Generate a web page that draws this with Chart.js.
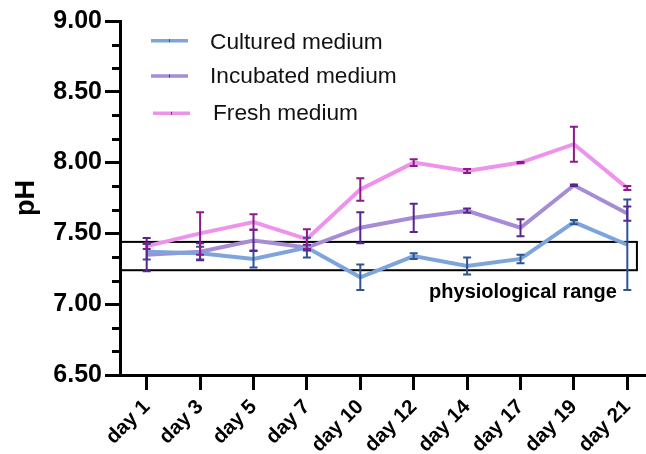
<!DOCTYPE html>
<html><head><meta charset="utf-8">
<script src="https://cdn.jsdelivr.net/npm/chart.js@4.4.0/dist/chart.umd.min.js"></script>
<style>html,body{margin:0;padding:0;background:#fff;}#wrap{width:646px;height:454px;position:relative;}</style>
</head><body><div id="wrap"><canvas id="c"></canvas></div>
<script>
// ---- data ----
const categories = ['day 1','day 3','day 5','day 7','day 10','day 12','day 14','day 17','day 19','day 21'];
const seriesNames = ['Cultured medium','Incubated medium','Fresh medium'];
const culturedMean = [7.37,7.36,7.32,7.40,7.19,7.34,7.27,7.32,7.58,7.42];
const culturedErr  = [0.055,0.045,0.06,0.07,0.09,0.02,0.06,0.03,0.015,0.32];
const incubatedMean = [7.35,7.37,7.45,7.40,7.54,7.61,7.66,7.54,7.84,7.64];
const incubatedErr  = [0.118,0.06,0.075,0.02,0.11,0.10,0.015,0.06,0.005,0.05];
const freshMean = [7.41,7.50,7.58,7.46,7.81,8.00,7.94,8.00,8.13,7.82];
const freshErr  = [0.02,0.15,0.055,0.07,0.08,0.024,0.014,0.005,0.124,0.014];
const yTickValues = [6.5,7.0,7.5,8.0,8.5,9.0];
const physRange = [7.24, 7.44];
const physLabel = 'physiological range';
const yTitle = 'pH';

// ---- styles ----
const lineColors = ['#7DA5DB','#A68BD7','#EE93EC'];
const errColors  = ['#2E5495','#58268E','#8C1A8C'];
const FONT = "'Liberation Sans', Arial, sans-serif";

const means = [culturedMean, incubatedMean, freshMean];
const errs  = [culturedErr, incubatedErr, freshErr];

const datasets = means.map((m,k)=>({
  label: seriesNames[k],
  data: m.map((v,i)=>({x:i,y:v})),
  borderColor: lineColors[k],
  backgroundColor: lineColors[k],
  borderWidth: 4,
  pointRadius: 0,
  tension: 0,
  errors: errs[k],
  errColor: errColors[k]
}));

const physBox = {
  id:'physBox',
  beforeDatasetsDraw(chart){
    const {ctx, chartArea, scales:{x,y}} = chart;
    const top = y.getPixelForValue(physRange[1]);
    const bot = y.getPixelForValue(physRange[0]);
    const right = x.getPixelForValue(9.18);
    ctx.save();
    ctx.strokeStyle = '#000'; ctx.lineWidth = 2;
    ctx.strokeRect(chartArea.left, top, right - chartArea.left, bot - top);
    ctx.fillStyle = '#000';
    ctx.font = 'bold 20px ' + FONT;
    ctx.textAlign = 'right'; ctx.textBaseline = 'alphabetic';
    ctx.fillText(physLabel, right - 20, bot + 28);
    ctx.restore();
  }
};

const errorBars = {
  id:'errorBars',
  afterDatasetsDraw(chart){
    const {ctx, scales:{x,y}} = chart;
    ctx.save();
    chart.data.datasets.forEach(ds=>{
      ctx.strokeStyle = ds.errColor; ctx.lineWidth = 2;
      ds.data.forEach((p,i)=>{
        const e = ds.errors[i];
        const px = x.getPixelForValue(p.x);
        const y1 = y.getPixelForValue(p.y + e), y2 = y.getPixelForValue(p.y - e);
        ctx.beginPath();
        ctx.moveTo(px,y1); ctx.lineTo(px,y2);
        ctx.moveTo(px-4,y1); ctx.lineTo(px+4,y1);
        ctx.moveTo(px-4,y2); ctx.lineTo(px+4,y2);
        ctx.stroke();
      });
    });
    ctx.restore();
  }
};

const minorTicks = {
  id:'minorTicks',
  afterDraw(chart){
    const {ctx, chartArea, scales:{y}} = chart;
    ctx.save();
    ctx.strokeStyle = '#000'; ctx.lineWidth = 3;
    for (let j = 0; j <= 15; j++) {
      if (j % 3 === 0) continue;
      const v = 6.5 + j/6;
      const py = Math.round(y.getPixelForValue(v)) + 0.5;
      ctx.beginPath(); ctx.moveTo(chartArea.left - 8, py); ctx.lineTo(chartArea.left, py); ctx.stroke();
    }
    ctx.restore();
  }
};

const customLegend = {
  id:'customLegend',
  afterDraw(chart){
    const {ctx} = chart;
    const lineY = [40.7, 76, 113.3];
    const textY = [42.5, 77, 113.5];
    const x0 = [151, 151, 153], x1 = [188, 188, 190], tx = [210, 210, 213];
    ctx.save();
    chart.data.datasets.forEach((ds,k)=>{
      ctx.strokeStyle = ds.borderColor; ctx.lineWidth = 3.5;
      ctx.beginPath(); ctx.moveTo(x0[k], lineY[k]); ctx.lineTo(x1[k], lineY[k]); ctx.stroke();
      ctx.strokeStyle = ds.errColor; ctx.lineWidth = 1;
      const mx = (x0[k]+x1[k])/2;
      ctx.beginPath(); ctx.moveTo(mx, lineY[k]-1.5); ctx.lineTo(mx, lineY[k]+1.5); ctx.stroke();
      ctx.fillStyle = '#111';
      ctx.font = '22.7px ' + FONT;
      ctx.textAlign = 'left'; ctx.textBaseline = 'middle';
      ctx.fillText(ds.label, tx[k], textY[k]);
    });
    ctx.restore();
  }
};

new Chart(document.getElementById('c'), {
  type: 'line',
  data: { datasets },
  options: {
    responsive: true,
    maintainAspectRatio: false,
    animation: false,
    layout: { padding: { top: 21, left: 0, right: 0, bottom: 0 } },
    plugins: { legend: { display: false }, tooltip: { enabled: false } },
    scales: {
      x: {
        type: 'linear',
        min: -0.5, max: 9.35,
        afterBuildTicks: s => { s.ticks = categories.map((_,i)=>({value:i})); },
        afterFit: s => { s.height = 79; s.paddingLeft = 0; s.paddingRight = 0; },
        border: { display: true, color: '#000', width: 3 },
        grid: { display: true, drawOnChartArea: false, drawTicks: true, tickLength: 15, tickWidth: 3, tickColor: '#000' },
        ticks: {
          autoSkip: false, minRotation: 45, maxRotation: 45, padding: 5,
          color: '#000', font: { family: FONT, size: 20.5, weight: 'bold' },
          callback: v => categories[v] ?? ''
        }
      },
      y: {
        type: 'linear',
        min: 6.5, max: 9.0,
        afterBuildTicks: s => { s.ticks = yTickValues.map(v=>({value:v})); },
        afterFit: s => { s.width = 120; },
        border: { display: true, color: '#000', width: 3 },
        grid: { display: true, drawOnChartArea: false, drawTicks: true, tickLength: 15, tickWidth: 3, tickColor: '#000' },
        ticks: {
          padding: 3, color: '#000',
          font: { family: FONT, size: 25, weight: 'bold' },
          callback: v => Number(v).toFixed(2)
        },
        title: {
          display: true, text: yTitle, color: '#000',
          font: { family: FONT, size: 27, weight: 'bold' },
          padding: { top: 10, bottom: 0 }
        }
      }
    }
  },
  plugins: [physBox, errorBars, minorTicks, customLegend]
});
</script>
</body></html>
